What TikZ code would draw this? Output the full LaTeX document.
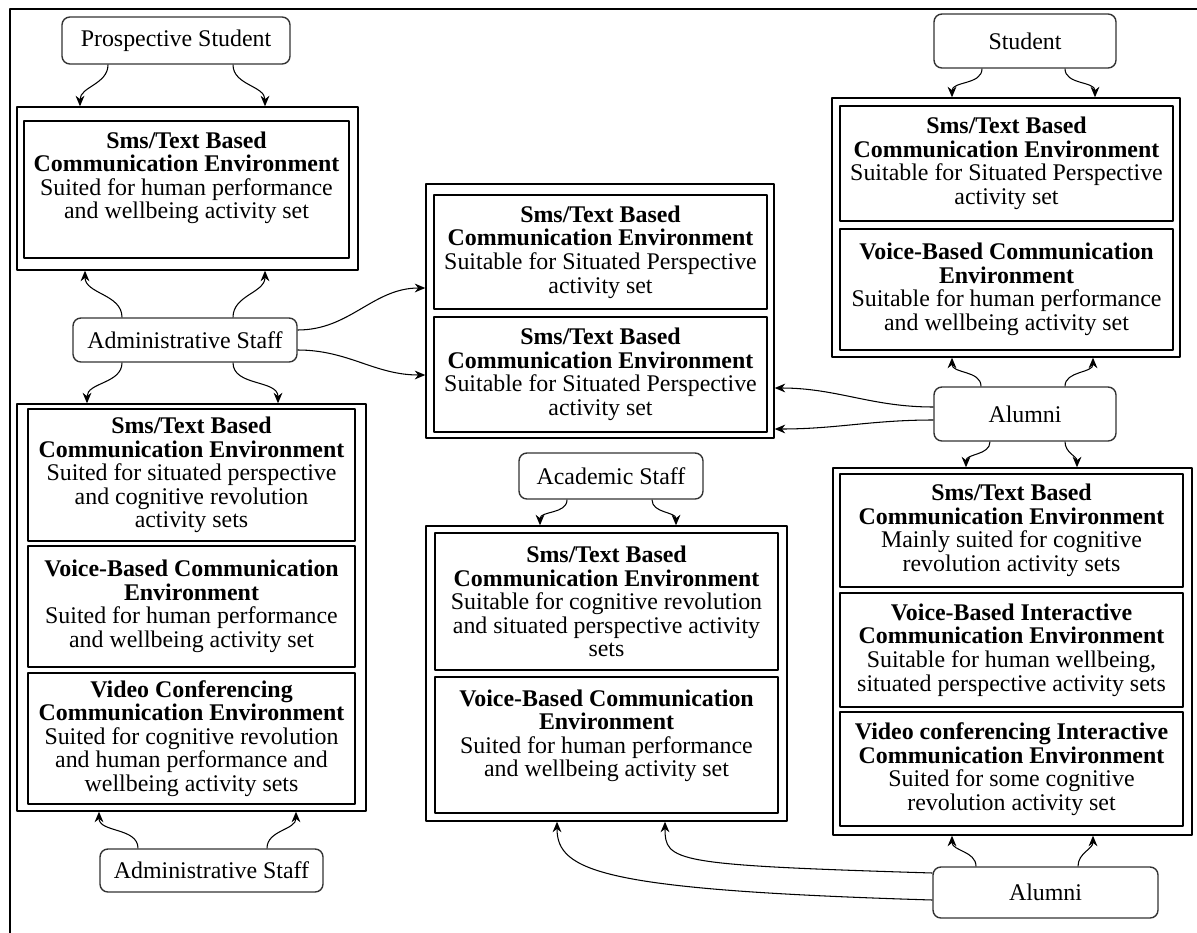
\documentclass[tikz,border=0pt]{standalone}
\usepackage{fontspec}
\setmainfont{Liberation Serif}
\usetikzlibrary{arrows.meta}
\tikzset{
  wh/.style 2 args={minimum width=#1*0.02cm, minimum height=#2*0.02cm},
  actor/.style={draw=black!80, line width=0.8pt, rounded corners=4.5pt, inner sep=0pt},
  envgroup/.style={draw, line width=0.8pt, inner sep=0pt},
  env/.style={draw, line width=0.8pt, inner sep=0pt, align=center},
  link/.style={->, line width=0.6pt},
}
\begin{document}
\begin{tikzpicture}[x=0.02cm, y=-0.02cm, >={Stealth[length=6pt,width=5pt]}, font=\fontsize{13.6}{13.4}\selectfont, line join=round]
  \useasboundingbox (0,0) rectangle (1197,933);
  \draw[line width=1.4pt] (10,933) -- (10,9) -- (1197,9);
  % people
  \node[actor, wh={228}{47}] (ps) at (176,40.5) {Prospective Student};
  \node[actor, wh={224}{44}] (adm) at (185,340) {Administrative Staff};
  \node[actor, wh={223}{43}] (adm2) at (211.5,870.5) {Administrative Staff};
  \node[actor, wh={182}{54}] (stu) at (1025,41) {Student};
  \node[actor, wh={182}{54}] (alu) at (1025,414) {Alumni};
  \node[actor, wh={184}{46}] (aca) at (611,476) {Academic Staff};
  \node[actor, wh={225}{51}] (alu2) at (1045.5,892.5) {Alumni};
  % groups
  \node[envgroup, wh={341}{163}] (ga) at (187.5,188.5) {};
  \node[envgroup, wh={349}{407}] (gb) at (191.5,607.5) {};
  \node[envgroup, wh={348}{254}] (gc) at (600,311) {};
  \node[envgroup, wh={348}{259}] (gd) at (1006,227.5) {};
  \node[envgroup, wh={359}{367}] (ge) at (1012.5,651.5) {};
  \node[envgroup, wh={361}{295}] (gf) at (606.5,673.5) {};
  % environments
  \node[env, wh={325}{137}] (ga1) at (186.5,189.5) {\textbf{Sms/Text Based}\\\textbf{Communication Environment}\\Suited for human performance\\and wellbeing activity set\\[3pt]\mbox{}};
  \node[env, wh={327}{132}] (gb1) at (191.5,475) {\textbf{Sms/Text Based}\\\textbf{Communication Environment}\\Suited for situated perspective\\and cognitive revolution\\activity sets};
  \node[env, wh={327}{121}] (gb2) at (191.5,606.5) {\textbf{Voice-Based Communication}\\\textbf{Environment}\\Suited for human performance\\and wellbeing activity set};
  \node[env, wh={327}{131}] (gb3) at (191.5,738.5) {\textbf{Video Conferencing}\\\textbf{Communication Environment}\\Suited for cognitive revolution\\and human performance and\\wellbeing activity sets};
  \node[env, wh={333}{114}] (gc1) at (600.5,252) {\textbf{Sms/Text Based}\\\textbf{Communication Environment}\\Suitable for Situated Perspective\\activity set};
  \node[env, wh={333}{115}] (gc2) at (600.5,374.5) {\textbf{Sms/Text Based}\\\textbf{Communication Environment}\\Suitable for Situated Perspective\\activity set};
  \node[env, wh={333}{115}] (gd1) at (1006.5,163.5) {\textbf{Sms/Text Based}\\\textbf{Communication Environment}\\Suitable for Situated Perspective\\activity set};
  \node[env, wh={333}{121}] (gd2) at (1006.5,289.5) {\textbf{Voice-Based Communication}\\\textbf{Environment}\\Suitable for human performance\\and wellbeing activity set};
  \node[env, wh={343}{113}] (ge1) at (1011.5,530.5) {\textbf{Sms/Text Based}\\\textbf{Communication Environment}\\Mainly suited for cognitive\\revolution activity sets};
  \node[env, wh={343}{114}] (ge2) at (1011.5,650) {\textbf{Voice-Based Interactive}\\\textbf{Communication Environment}\\Suitable for human wellbeing,\\situated perspective activity sets};
  \node[env, wh={343}{114}] (ge3) at (1011.5,769) {\textbf{Video conferencing Interactive}\\\textbf{Communication Environment}\\Suited for some cognitive\\revolution activity set};
  \node[env, wh={343}{137}] (gf1) at (606.5,601.5) {\textbf{Sms/Text Based}\\\textbf{Communication Environment}\\Suitable for cognitive revolution\\and situated perspective activity\\sets};
  \node[env, wh={343}{136}] (gf2) at (606.5,745) {\textbf{Voice-Based Communication}\\\textbf{Environment}\\Suited for human performance\\and wellbeing activity set\\\mbox{}};
  % links
  \draw[link] (ps.south -| 108,0) to[out=-90,in=90] (ga.north -| 80,0);
  \draw[link] (ps.south -| 233,0) to[out=-90,in=90] (ga.north -| 265,0);
  \draw[link] (adm.north -| 122,0) to[out=90,in=-90] (ga.south -| 85,0);
  \draw[link] (adm.north -| 233,0) to[out=90,in=-90] (ga.south -| 265,0);
  \draw[link] (adm.south -| 122,0) to[out=-90,in=90] (gb.north -| 87,0);
  \draw[link] (adm.south -| 233,0) to[out=-90,in=90] (gb.north -| 278,0);
  \draw[link] (adm.east |- 0,330) to[out=0,in=180] (gc.west |- 0,288);
  \draw[link] (adm.east |- 0,350) to[out=0,in=180] (gc.west |- 0,375);
  \draw[link] (adm2.north -| 138,0) to[out=90,in=-90] (gb.south -| 99,0);
  \draw[link] (adm2.north -| 267,0) to[out=90,in=-90] (gb.south -| 296,0);
  \draw[link] (stu.south -| 982,0) to[out=-90,in=90] (gd.north -| 952,0);
  \draw[link] (stu.south -| 1065,0) to[out=-90,in=90] (gd.north -| 1095,0);
  \draw[link] (alu.north -| 981,0) to[out=90,in=-90] (gd.south -| 952,0);
  \draw[link] (alu.north -| 1065,0) to[out=90,in=-90] (gd.south -| 1093,0);
  \draw[link] (alu.west |- 0,407) to[out=180,in=0] (gc.east |- 0,388);
  \draw[link] (alu.west |- 0,420) to[out=180,in=0] (gc.east |- 0,429);
  \draw[link] (alu.south -| 990,0) to[out=-90,in=90] (ge.north -| 966,0);
  \draw[link] (alu.south -| 1065,0) to[out=-90,in=90] (ge.north -| 1077,0);
  \draw[link] (aca.south -| 567,0) to[out=-90,in=90] (gf.north -| 540,0);
  \draw[link] (aca.south -| 652,0) to[out=-90,in=90] (gf.north -| 676,0);
  \draw[link] (alu2.north -| 976,0) to[out=90,in=-90] (ge.south -| 952,0);
  \draw[link] (alu2.north -| 1078,0) to[out=90,in=-90] (ge.south -| 1093,0);
  \draw[link] (alu2.west |- 0,873) .. controls +(-260,-8) and +(0,40) .. (gf.south -| 665,0);
  \draw[link] (alu2.west |- 0,900) .. controls +(-330,-10) and +(0,50) .. (gf.south -| 557,0);
\end{tikzpicture}
\end{document}
